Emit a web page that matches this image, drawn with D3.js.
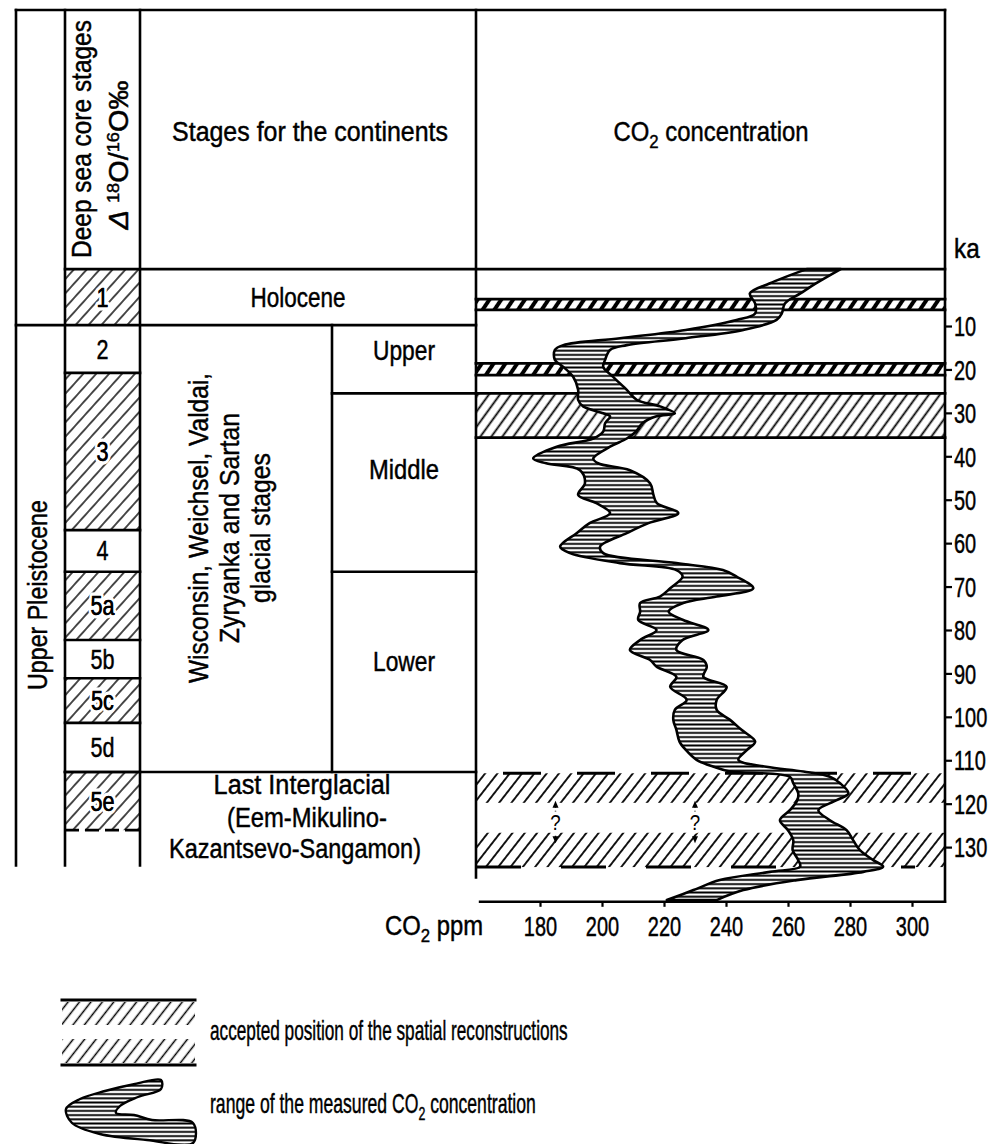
<!DOCTYPE html>
<html><head><meta charset="utf-8">
<script src="https://cdn.jsdelivr.net/npm/d3@7"></script>
<style>
body{margin:0;background:#fff}
svg text{font-family:"Liberation Sans",Arial,sans-serif;fill:#000}
</style></head><body>
<svg id="c" width="991" height="1144"></svg>
<script>
// ---------------- data ----------------
const ppmTicks = [180, 200, 220, 240, 260, 280, 300];
const kaTicks = [10, 20, 30, 40, 50, 60, 70, 80, 90, 100, 110, 120, 130];

// measured CO2 range (ka, lower ppm, upper ppm)
const bandKa = [-3.1,0.2,2.5,4.8,7.1,8.6,10.9,12.8,14.4,15.5,17.8,19.4,21.7,24.7,27,28.5,30.1,30.8,32.4,34.3,35.9,37.8,40.5,41.6,43.2,46.2,48.9,50.8,53.1,55.4,57.7,60.8,62.3,64.6,66.2,67.7,70.4,72.3,73.8,75.8,77.7,80,82.3,84.6,86.9,88.5,90.8,93.1,96.1,98.4,100.7,103,105.7,107.6,109.9,111.5,112.6,113.8,115.3,117.6,119.2,121.5,123.8,126.1,128.4,130.7,133,134.5,135.7,137.6,139.9,142.2];
const bandLow = [266,254,247.7,249.4,249.4,243.4,227,205.8,187.5,184.8,184.8,187.5,190.7,192.3,192.3,193.9,200.4,202.6,201,200.4,197.2,185.4,177.8,182,192.9,194.5,192.3,198.2,202.6,196,191.8,186.5,189.7,205.8,224,226,222,218.7,212.3,212.3,211.7,217.6,212.3,209,215.5,217.7,224,222,227.3,223.5,223,224,225,227,230.5,236,241.3,260.6,261.7,263.3,263,260.6,257.4,260,261.7,261.5,263.3,263.9,254.2,238,229.5,220.9];
const bandHigh = [277,269,264,259,258,256.3,245.6,227,208,202.6,201,200.4,203.6,208,211.2,218.7,223.5,217.6,213,211,208,202.6,197.2,198.7,209,215.5,216.6,217.7,224.6,215,208,199.4,200.4,224,239,243.4,248.8,237,226.2,221.5,226.2,234.3,226,224,232.7,233.8,232.7,240.2,237,237,241.3,245,249.4,246.8,244,253,265,273.5,276.8,279.5,275.7,269.8,273.5,278.9,281,283.2,287.5,290.7,284.3,262.8,245.6,237];

// accepted positions of the spatial reconstructions (ka)
const reconFrom = [3.8, 18.6, 25.5, 113];
const reconTo = [6.3, 21.3, 35.7, 134.6];
const reconKind = ["thin", "thin", "wide", "interglacial"];
const interglacialHatchFrom = [113, 126.7];
const interglacialHatchTo = [119.8, 134.6];
const questionPpm = [185, 230];
const questionKa = [119.3, 129.1];

// deep sea core stages
const deepStages = ["1", "2", "3", "4", "5a", "5b", "5c", "5d", "5e"];
const deepBounds = [-3.1, 9.8, 20.8, 57.0, 66.6, 82.3, 91.1, 101.4, 112.7, 126.1];
const deepHatched = [true, false, true, false, true, false, true, false, true];

// continental stages
const contSub = ["Upper", "Middle", "Lower"];
const contSubBounds = [9.8, 25.5, 66.6, 112.7];
const glacialLines = ["Wisconsin, Weichsel, Valdai,", "Zyryanka and Sartan", "glacial stages"];
const interglacialLines = ["Last  Interglacial", "(Eem-Mikulino-", "Kazantsevo-Sangamon)"];
const tableBottomKa = 134.2;
const plotTopKa = -3.1, plotBottomKa = 142.6;

// ---------------- drawing ----------------
const FS = 27;
const DIGIT_SX = 0.74;
const LW = 2.6;
const svg = d3.select('#c');
svg.append('rect').attr('width', 991).attr('height', 1144).attr('fill', '#fff');
const defs = svg.append('defs');

function hatch(id, w, angle, sw) {
  const p = defs.append('pattern').attr('id', id).attr('patternUnits', 'userSpaceOnUse')
    .attr('width', w).attr('height', w).attr('patternTransform', `rotate(${angle})`);
  p.append('line').attr('x1', w / 2).attr('y1', -1).attr('x2', w / 2).attr('y2', w + 1)
    .attr('stroke', '#000').attr('stroke-width', sw);
}
hatch('hTable', 9.6, 42, 1.4);
hatch('hThin', 9.8, 34, 4.0);
hatch('hWide', 8.9, 36, 1.8);
hatch('hInter', 9.7, 38, 1.8);
hatch('hLegend', 9.0, 38, 1.5);
const hp = defs.append('pattern').attr('id', 'hLines').attr('patternUnits', 'userSpaceOnUse')
  .attr('width', 10).attr('height', 4.2);
hp.append('rect').attr('width', 10).attr('height', 4.2).attr('fill', '#fff');
hp.append('line').attr('x1', 0).attr('x2', 10).attr('y1', 2.1).attr('y2', 2.1)
  .attr('stroke', '#000').attr('stroke-width', 1.9);

const y = d3.scaleLinear().domain([0, 130]).range([282.6, 847.1]);
const x = d3.scaleLinear().domain([180, 300]).range([540, 912]);

const X = [16, 65, 140, 332, 476, 945];
const TOP = 10;
const yHead = y(plotTopKa);
const yAxis = y(plotBottomKa);

const g = svg.append('g');
function line(x1, y1, x2, y2, sw = LW, dash = null) {
  const l = g.append('line').attr('x1', x1).attr('y1', y1).attr('x2', x2).attr('y2', y2)
    .attr('stroke', '#000').attr('stroke-width', sw).attr('stroke-linecap', 'square');
  if (dash) l.attr('stroke-dasharray', dash).attr('stroke-linecap', 'butt');
  return l;
}
// text placed at (tx,ty), optional rotation, fitted to a target width (o.w) or scaled (o.sx)
function T(content, tx, ty, o = {}) {
  const gg = g.append('g').attr('transform', `translate(${tx},${ty})` + (o.rot ? ' rotate(-90)' : ''));
  const t = gg.append('text').attr('text-anchor', o.anchor || 'middle').attr('font-size', o.size || FS);
  if (typeof content === 'string') t.text(content); else content(t);
  if (o.halo) t.attr('stroke', '#fff').attr('stroke-width', 7).attr('paint-order', 'stroke').attr('stroke-linejoin', 'round');
  else t.attr('stroke', '#000').attr('stroke-width', 0.45);
  let sx = o.sx || 1;
  if (o.w) sx = o.w / t.node().getBBox().width;
  t.attr('transform', `scale(${sx},1)`);
  return t;
}
function sub(base, s, rest, subSize = 19) {
  return t => {
    t.append('tspan').text(base);
    t.append('tspan').attr('font-size', subSize).attr('dy', 7).text(s);
    t.append('tspan').attr('dy', -7).text(rest);
  };
}

// ----- reconstruction bands (CO2 panel) -----
reconFrom.forEach((f, i) => {
  const kind = reconKind[i];
  if (kind === 'interglacial') {
    interglacialHatchFrom.forEach((hf, j) => {
      g.append('rect').attr('x', X[4]).attr('width', X[5] - X[4])
        .attr('y', y(hf)).attr('height', y(interglacialHatchTo[j]) - y(hf)).attr('fill', 'url(#hInter)');
    });
    line(X[4] + 4, y(f), X[5], y(f), 3, '38,36').attr('stroke-dashoffset', -23);
    line(X[4], y(reconTo[i]), X[5] - 30, y(reconTo[i]), 3, '45,40');
  } else {
    g.append('rect').attr('x', X[4]).attr('width', X[5] - X[4])
      .attr('y', y(f)).attr('height', y(reconTo[i]) - y(f))
      .attr('fill', kind === 'thin' ? 'url(#hThin)' : 'url(#hWide)');
    line(X[4], y(f), X[5], y(f), 2.8);
    line(X[4], y(reconTo[i]), X[5], y(reconTo[i]), 2.8);
  }
});

// ----- measured CO2 band -----
const bandData = bandKa.map((k, i) => ({ ka: k, lo: bandLow[i], hi: bandHigh[i] }));
const area = d3.area().y(d => y(d.ka)).x0(d => x(d.lo)).x1(d => x(d.hi)).curve(d3.curveCatmullRom.alpha(0.5));
g.append('path').datum(bandData).attr('d', area).attr('fill', 'url(#hLines)')
  .attr('stroke', '#000').attr('stroke-width', 2.6).attr('stroke-linejoin', 'round');

// question marks with dotted arrows
questionPpm.forEach(p => {
  const qx = x(p), y1 = y(questionKa[0]), y2 = y(questionKa[1]);
  line(qx, y1 + 5, qx, y2 - 5, 1.4, '2,3');
  g.append('path').attr('d', `M${qx},${y1} l-3,7 l6,0 z`).attr('fill', '#000');
  g.append('path').attr('d', `M${qx},${y2} l-3,-7 l6,0 z`).attr('fill', '#000');
  T('?', qx, (y1 + y2) / 2 + 8, { size: 22, halo: true, sx: 0.85 });
});

// ----- table -----
deepStages.forEach((s, i) => {
  if (deepHatched[i]) {
    g.append('rect').attr('x', X[1]).attr('width', X[2] - X[1])
      .attr('y', y(deepBounds[i])).attr('height', y(deepBounds[i + 1]) - y(deepBounds[i]))
      .attr('fill', 'url(#hTable)');
  }
});
line(X[0], TOP, X[5], TOP);
line(X[0], TOP, X[0], y(tableBottomKa));
line(X[1], TOP, X[1], y(tableBottomKa));
line(X[2], TOP, X[2], y(tableBottomKa));
line(X[3], y(contSubBounds[0]), X[3], y(contSubBounds[3]));
line(X[4], TOP, X[4], y(137));
line(X[5], TOP, X[5], yAxis);
line(X[1], yHead, X[5], yHead);
line(X[0], y(deepBounds[1]), X[4], y(deepBounds[1]));
deepBounds.slice(2, 9).forEach(b => line(X[1], y(b), X[2], y(b)));
line(X[1], y(deepBounds[9]), X[2], y(deepBounds[9]), 2.6, '14,6');
line(X[3], y(contSubBounds[1]), X[4], y(contSubBounds[1]));
line(X[3], y(contSubBounds[2]), X[4], y(contSubBounds[2]));
line(X[1], y(contSubBounds[3]), X[4], y(contSubBounds[3]));

// stage labels
deepStages.forEach((s, i) => {
  const cy = (y(deepBounds[i]) + y(deepBounds[i + 1])) / 2;
  const t = T(s, (X[1] + X[2]) / 2, cy + 9.5, { halo: deepHatched[i], sx: 0.8 });
  if (deepHatched[i]) T(s, (X[1] + X[2]) / 2, cy + 9.5, { sx: 0.8 });
});
T('Holocene', (X[2] + X[4]) / 2 - 10, (yHead + y(deepBounds[1])) / 2 + 9.5, { w: 95 });
const subOff = [-9, -13, -10];
const subW = [62, 70, 62];
contSub.forEach((s, i) => {
  const cy = (y(contSubBounds[i]) + y(contSubBounds[i + 1])) / 2 + subOff[i];
  T(s, (X[3] + X[4]) / 2, cy + 9.5, { w: subW[i] });
});
const glacialBase = [208, 239, 270];
const glacialW = [310, 230, 150];
glacialLines.forEach((s, i) => T(s, glacialBase[i], 528, { rot: true, w: glacialW[i] }));
const igBase = [794, 827, 858];
const igX = [302, 307, 295];
const igW = [177, 160, 252];
interglacialLines.forEach((s, i) => T(s, igX[i], igBase[i], { w: igW[i] }));
T('Upper Pleistocene', 47, 595, { rot: true, w: 190 });

// headers
T('Deep sea core stages', 91, 139, { rot: true, w: 238 });
T(t => {
  t.append('tspan').attr('font-style', 'italic').text('Δ ');
  t.append('tspan').attr('font-size', 17).attr('dy', -9).text('18');
  t.append('tspan').attr('dy', 9).text('O/');
  t.append('tspan').attr('font-size', 17).attr('dy', -9).text('16');
  t.append('tspan').attr('dy', 9).text('O‰');
}, 128, 155, { rot: true, w: 150 });
T('Stages for the continents', 310, 141, { w: 276 });
T(sub('CO', '2', '  concentration'), 711, 141, { w: 195 });
T('ka', 954, 258, { anchor: 'start', sx: 0.9 });

// ----- axes -----
const ax = svg.append('g').attr('transform', `translate(${X[5]},0)`)
  .call(d3.axisRight(y).tickValues(kaTicks).tickSize(7).tickPadding(2));
ax.select('.domain').remove();
ax.selectAll('line').attr('stroke', '#000').attr('stroke-width', 2.2);
ax.selectAll('text').attr('font-size', FS).attr('dy', '0.36em')
  .attr('stroke', '#000').attr('stroke-width', 0.45)
  .attr('x', 9 / DIGIT_SX).attr('transform', `scale(${DIGIT_SX},1)`);

line(480, yAxis, X[5], yAxis, 2.4);
const bx = svg.append('g').attr('transform', `translate(0,${yAxis})`)
  .call(d3.axisBottom(x).tickValues(ppmTicks).tickSize(5).tickPadding(10));
bx.select('.domain').remove();
bx.selectAll('line').attr('stroke', '#000').attr('stroke-width', 2.2);
bx.selectAll('text').attr('font-size', FS).attr('stroke', '#000').attr('stroke-width', 0.45)
  .attr('transform', `scale(${DIGIT_SX},1)`);
T(sub('CO', '2', ' ppm'), 483, 935, { anchor: 'end', w: 98 });

// ----- legend -----
const LX0 = 62, LX1 = 195;
g.append('rect').attr('x', LX0).attr('y', 1002).attr('width', LX1 - LX0).attr('height', 23).attr('fill', 'url(#hLegend)');
g.append('rect').attr('x', LX0).attr('y', 1039).attr('width', LX1 - LX0).attr('height', 24).attr('fill', 'url(#hLegend)');
line(LX0, 1000, LX1, 1000, 3);
line(LX0, 1065, LX1, 1065, 3);
T('accepted position of the spatial reconstructions', 210, 1040, { anchor: 'start', w: 358 });

const legOuter = [[161,1080],[135,1084],[105,1091],[80,1099],[66,1109],[72,1123],[100,1134],[147,1140],[193,1143]];
const legInner = [[193,1123],[152,1120],[134,1115],[116,1113],[120,1106],[138,1097],[161,1089]];
const legPts = legOuter.concat(legInner);
g.append('path').attr('d', d3.line().curve(d3.curveCatmullRomClosed)(legPts))
  .attr('fill', 'url(#hLines)').attr('stroke', '#000').attr('stroke-width', 2.4);
T(sub('range of the measured CO', '2', '  concentration'), 210, 1113, { anchor: 'start', w: 326 });
</script>
</body></html>
